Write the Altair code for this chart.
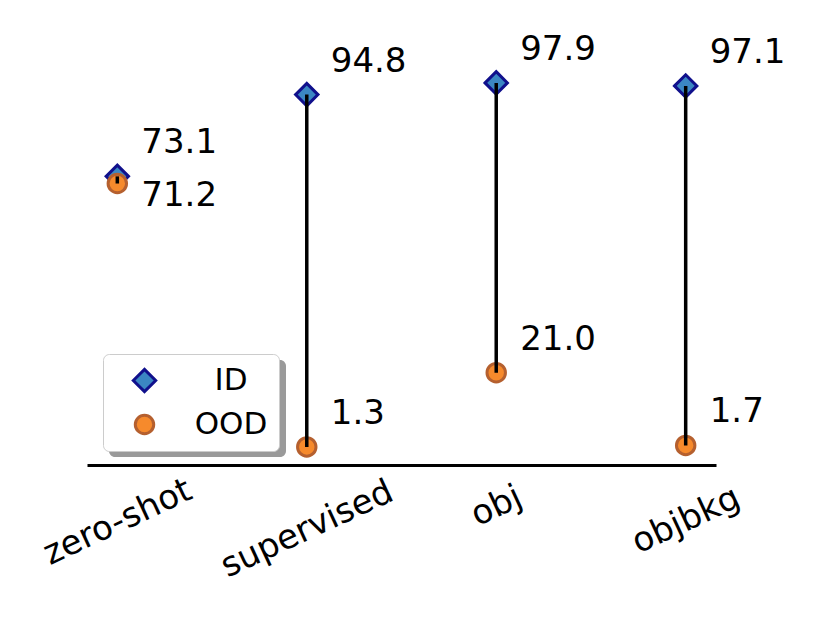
import json
import altair as alt
import pandas as pd

categories = ["zero-shot", "supervised", "obj", "objbkg"]
id_vals = [73.1, 94.8, 97.9, 97.1]
ood_vals = [71.2, 1.3, 21.0, 1.7]
series_names = ["ID", "OOD"]

idx = list(range(len(categories)))
wide = pd.DataFrame({"idx": idx, "category": categories, "id": id_vals, "ood": ood_vals})
long = pd.concat([
    pd.DataFrame({"idx": idx, "category": categories, "value": id_vals, "series": "ID"}),
    pd.DataFrame({"idx": idx, "category": categories, "value": ood_vals, "series": "OOD"}),
], ignore_index=True)

FONT = "DejaVu Sans"
xscale = alt.Scale(domain=[-0.16, len(categories) - 1 + 0.16], nice=False, zero=False)
yscale = alt.Scale(domain=[-3.5, 100], nice=False, zero=False)

label_pad = {
    "condition": [
        {"test": "datum.value == 0", "value": 57},
        {"test": "datum.value == 1", "value": 64},
        {"test": "datum.value == 2", "value": 41},
    ],
    "value": 55,
}

x_axis = alt.Axis(
    title=None, ticks=False, grid=False, domain=True, domainColor="black",
    domainWidth=3, labelAngle=-25, labelAlign="center", labelBaseline="middle",
    labelFont=FONT, labelFontSize=34, labelColor="black", labelPadding=label_pad,
    values=idx, labelExpr=json.dumps(categories) + "[datum.value]",
    labelOverlap=False, labelBound=False, labelFlush=False, labelLimit=0,
)

X = alt.X("idx:Q", scale=xscale, axis=x_axis)

points = alt.Chart(long).mark_point(filled=True, opacity=1, strokeWidth=3).encode(
    x=X,
    y=alt.Y("value:Q", scale=yscale, axis=None),
    shape=alt.Shape("series:N", scale=alt.Scale(domain=series_names, range=["diamond", "circle"]),
                    legend=alt.Legend(title=None)),
    fill=alt.Fill("series:N", scale=alt.Scale(domain=series_names, range=["#3b87c3", "#f68a2c"]),
                  legend=alt.Legend(title=None)),
    stroke=alt.Stroke("series:N", scale=alt.Scale(domain=series_names, range=["#10108c", "#b5602f"]),
                      legend=alt.Legend(title=None)),
    size=alt.Size("series:N", scale=alt.Scale(domain=series_names, range=[500, 340]),
                  legend=alt.Legend(title=None)),
)

rules = alt.Chart(wide).mark_rule(color="black", strokeWidth=3.5).encode(
    x=X, y=alt.Y("id:Q", scale=yscale), y2="ood:Q"
)

def label_layer(field, dy, flt):
    return alt.Chart(wide).transform_filter(flt).mark_text(
        align="left", baseline="middle", dx=24, dy=dy, font=FONT, fontSize=34, color="black"
    ).encode(x=X, y=alt.Y(f"{field}:Q", scale=yscale), text=alt.Text(f"{field}:Q", format=".1f"))

id_text = label_layer("id", -33, "true")
ood_text_above = label_layer("ood", -33, "datum.category != 'zero-shot'")
ood_text_below = label_layer("ood", 12, "datum.category == 'zero-shot'")

shadow = alt.Chart(alt.Data(values=[{}])).mark_rect(color="#9a9a9a", cornerRadius=6).encode(
    x=alt.value(22), x2=alt.value(199), y=alt.value(285), y2=alt.value(382)
)

chart = alt.layer(shadow, points, rules, id_text, ood_text_above, ood_text_below).properties(
    width=629, height=390,
    autosize=alt.AutoSizeParams(type="none"),
    padding={"left": 79, "top": 67, "right": 98, "bottom": 145},
).configure_view(stroke=None).configure_legend(
    orient="none", legendX=16, legendY=279, fillColor="white", strokeColor="#cccccc",
    cornerRadius=6, padding=11, symbolOffset=15, symbolSize=380, symbolStrokeWidth=3,
    labelAlign="center", labelOffset=71, labelFont=FONT, labelFontSize=31,
    labelColor="black", rowPadding=10,
)

chart.save("out.html", embed_options={"renderer": "svg", "actions": False})
